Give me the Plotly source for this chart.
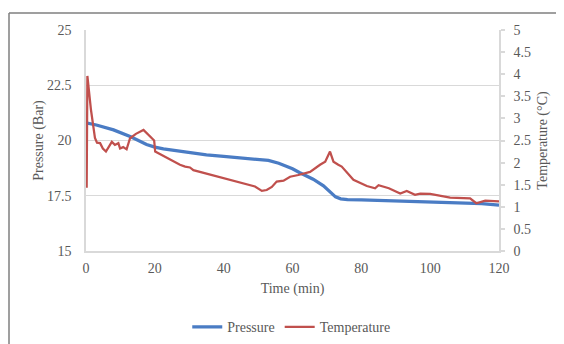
import plotly.graph_objects as go

# ---- data ----
p_time = [0, 3, 8, 13, 17.6, 20, 22.5, 27, 30, 35, 40, 45, 50, 53, 56, 60, 62, 66, 69,
          71, 72.5, 74, 76, 80, 85, 90, 100, 110, 115, 120]
pressure = [20.8, 20.7, 20.48, 20.17, 19.82, 19.7, 19.62, 19.52, 19.45, 19.35, 19.28, 19.22,
            19.17, 19.1, 18.97, 18.72, 18.55, 18.25, 17.95, 17.65, 17.45, 17.36, 17.33,
            17.31, 17.29, 17.26, 17.21, 17.17, 17.14, 17.08]

t_time = [0.2, 0.4, 1.45, 2.6, 3.2, 4.1, 4.9, 5.8, 7.5, 8.4, 9.4, 9.9, 10.8, 11.8, 12.8,
          14.5, 16.7, 19.8, 20.1, 23, 24.4, 27.3, 28.8, 30.2, 31.2, 33.1, 36, 41.9, 45,
          49.1, 51.1, 52.5, 54, 55.4, 57.4, 59.3, 61.7, 65.1, 68, 69.5, 70.9, 71.9, 73.3,
          74.3, 77.7, 81.6, 84, 85, 88, 91.3, 93.2, 95.6, 97.1, 100, 105.8, 111.6, 113.4,
          116, 120]
temperature = [1.43, 3.96, 3.19, 2.56, 2.45, 2.44, 2.32, 2.25, 2.47, 2.4, 2.44, 2.32, 2.35,
               2.3, 2.55, 2.65, 2.74, 2.5, 2.25, 2.13, 2.07, 1.95, 1.91, 1.89, 1.83, 1.79,
               1.74, 1.61, 1.55, 1.46, 1.36, 1.38, 1.45, 1.57, 1.59, 1.68, 1.72, 1.79, 1.95,
               2.02, 2.25, 2.02, 1.95, 1.91, 1.61, 1.47, 1.42, 1.49, 1.42, 1.30, 1.36, 1.27,
               1.30, 1.29, 1.21, 1.19, 1.08, 1.14, 1.12]

x_ticks = [0, 20, 40, 60, 80, 100, 120]
left_ticks = [15, 17.5, 20, 22.5, 25]
left_labels = ["15", "17.5", "20", "22.5", "25"]
right_ticks = [0, 0.5, 1, 1.5, 2, 2.5, 3, 3.5, 4, 4.5, 5]
right_labels = ["0", "0.5", "1", "1.5", "2", "2.5", "3", "3.5", "4", "4.5", "5"]

FONT = "Liberation Serif"
GREY = "#595959"
FS = 14

fig = go.Figure()
fig.add_trace(go.Scatter(x=p_time, y=pressure, name="Pressure", mode="lines",
                         line=dict(color="#4a7cc4", width=3.25)))
fig.add_trace(go.Scatter(x=t_time, y=temperature, name="Temperature", mode="lines",
                         yaxis="y2", line=dict(color="#c0504d", width=2.25)))

fig.update_layout(
    width=556, height=336,
    margin=dict(l=78, r=65, t=22, b=93, autoexpand=False),
    paper_bgcolor="white", plot_bgcolor="white",
    font=dict(family=FONT, size=FS, color=GREY),
    showlegend=True,
    legend=dict(orientation="h", x=0.497, xanchor="center", y=-0.345, yanchor="middle",
                font=dict(family=FONT, size=FS, color=GREY), itemwidth=30),
    xaxis=dict(range=[0, 120], tickvals=x_ticks, ticktext=[str(v) for v in x_ticks],
               showgrid=False, zeroline=False, showline=True, linecolor="#d9d9d9",
               linewidth=1.5, ticks="", ticklabelstandoff=3, automargin=False,
               title=dict(text="Time (min)", standoff=9,
                          font=dict(family=FONT, size=FS, color=GREY))),
    yaxis=dict(range=[15, 25], tickvals=left_ticks, ticktext=left_labels,
               showgrid=True, gridcolor="#d9d9d9", gridwidth=1, zeroline=False,
               showline=True, linecolor="#d9d9d9", linewidth=1.5, ticks="",
               ticklabelstandoff=10, automargin=False,
               title=dict(text="Pressure (Bar)", standoff=0,
                          font=dict(family=FONT, size=FS, color=GREY))),
    yaxis2=dict(range=[0, 5], tickvals=right_ticks, ticktext=right_labels,
                overlaying="y", side="right", showgrid=False, zeroline=False,
                showline=True, linecolor="#d9d9d9", linewidth=1.5, automargin=False,
                ticks="outside", ticklen=4, tickcolor="#d9d9d9", tickwidth=1.5,
                ticklabelstandoff=6,
                title=dict(text="Temperature (°C)", standoff=7,
                           font=dict(family=FONT, size=FS, color=GREY))),
    shapes=[
        dict(type="line", xref="paper", yref="paper",
             x0=(9 - 86) / 413, x1=(9 - 86) / 413,
             y0=(251 - 13) / 221, y1=(251 - 360) / 221,
             line=dict(color="#7f7f7f", width=1.5)),
        dict(type="line", xref="paper", yref="paper",
             x0=(9 - 86) / 413, x1=(580 - 86) / 413,
             y0=(251 - 13) / 221, y1=(251 - 13) / 221,
             line=dict(color="#7f7f7f", width=1.5)),
    ],
)

fig.write_html("out.html")
